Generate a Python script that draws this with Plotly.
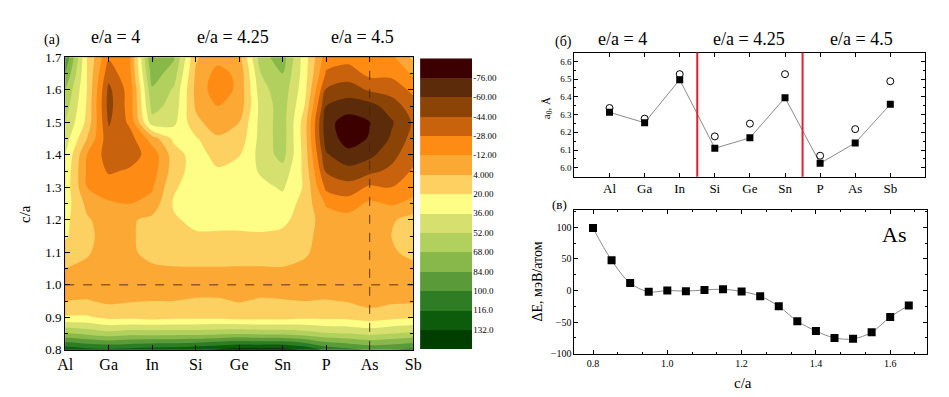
import plotly.graph_objects as go

# ---------------- data ----------------
elements = ["Al", "Ga", "In", "Si", "Ge", "Sn", "P", "As", "Sb"]
group_titles = ["e/a = 4", "e/a = 4.25", "e/a = 4.5"]
group_size = 3

# contour map (panel a): positions along the element axis and c/a rows, values in meV/atom
map_x = [0, 0.5, 1, 1.5, 2, 2.5, 3, 3.5, 4, 4.5, 5, 5.5, 6, 6.5, 7, 7.5, 8]
map_ca = [0.80, 0.85, 0.90, 0.95, 1.00, 1.05, 1.10, 1.15, 1.20, 1.25,
          1.30, 1.35, 1.40, 1.45, 1.50, 1.55, 1.60, 1.65, 1.70]
row_080 = [128, 122, 120, 122, 125, 126, 130, 135, 140, 140, 140, 130, 112, 105, 98, 100, 105]
row_085 = [70, 64, 58, 62, 62, 62, 62, 64, 66, 64, 64, 60, 54, 52, 48, 52, 56]
row_090 = [22, 22, 16, 16, 14, 16, 16, 16, 14, 14, 14, 16, 16, 16, 12, 16, 18]
row_095 = [4, 5, 1, 3, 4, 4, 6, 6, 3, 6, 5, 4, 5, 3, -2, 1, 2]
row_100 = [-4, -4, -6, -6, -6, -4, -4, -4, -4, -4, -4, -6, -6, -6, 0, -5, -4]
row_105 = [4, 0, -4, 0, 2, 3, 3, 3, 3, 3, 3, 1, -4, -4, -1, -2, 0]
row_110 = [14, 6, -4, 2, 8, 10, 12, 12, 10, 10, 12, 6, -2, -3, 1, 2, 8]
row_115 = [22, 8, -3, 2, 10, 16, 18, 18, 18, 18, 16, 8, -2, -4, 2, 4, 10]
row_120 = [24, 6, -4, 2, 8, 18, 24, 24, 24, 26, 24, 12, -4, -6, -1.5, 2, 10]
row_125 = [28, 0, -10, -12, -6, 22, 28, 28, 28, 30, 30, 14, -14, -20, -9, -14, -8]
row_130 = [30, -12, -20, -20, -14, 18, 28, 28, 28, 32, 38, 18, -32, -38, -25, -28, -18]
row_135 = [32, -14, -30, -26, -20, 12, 28, 22, 26, 38, 46, 16, -46, -54, -48.5, -40, -26]
row_140 = [36, -12, -36, -34, -22, 12, 28, 14, 19, 42, 58, 14, -58, -72, -64, -50, -32]
row_145 = [44, 4, -38, -34, -4, 24, 22, 6, 10, 42, 60, 12, -68, -82, -75, -58, -38]
row_150 = [52, 16, -46, -24, 46, 40, 8, -4, 4, 42, 60, 12, -70, -84, -76.5, -62, -42]
row_155 = [60, 18, -50, -20, 58, 46, 2, -12, -6, 42, 60, 20, -60, -68, -66, -52, -36]
row_160 = [68, 20, -48, -20, 66, 50, 0, -22, -8, 46, 62, 26, -46, -52, -42, -38, -24]
row_165 = [84, 20, -38, -14, 76, 60, 2, -18, -8, 52, 68, 28, -30, -36, -23.5, -24, -10]
row_170 = [100, 20, -26, -12, 86, 70, 6, -6, -2, 62, 76, 28, -20, -22, -20, -16, 8]

level_start = -76
level_step = 16
level_end = 132
cbar_labels = ["-76.00", "-60.00", "-44.00", "-28.00", "-12.00", "4.000", "20.00",
               "36.00", "52.00", "68.00", "84.00", "100.0", "116.0", "132.0"]
band_colors = ["#3c0000", "#5c2c0a", "#8c4406", "#c8620c", "#fe8c14", "#fca834",
               "#fdd062", "#fefe86", "#d6e06e", "#b2d05e", "#88b84a", "#5a9a38",
               "#2e7c24", "#0c5c0c", "#003e00"]

# panel б: lattice parameter a0 (Å)
a0_calc = [6.313, 6.254, 6.497, 6.110, 6.169, 6.395, 6.025, 6.140, 6.358]
a0_ref = [6.337, 6.277, 6.528, 6.177, 6.249, 6.528, 6.068, 6.218, 6.488]

# panel в: ΔE(c/a) for As
ca_As = [0.80, 0.85, 0.90, 0.95, 1.00, 1.05, 1.10, 1.15, 1.20,
         1.25, 1.30, 1.35, 1.40, 1.45, 1.50, 1.55, 1.60, 1.65]
dE_As = [99, 48, 12, -2, 0, -1, 1, 2, -1.5,
         -9, -25, -48.5, -64, -75, -76.5, -66, -42, -23.5]
dE_label = "As"

ref_ca = 1.0
ref_element = "As"

# ---------------- figure ----------------
W, H = 949, 397
def px(x):
    return x / W
def py(y):
    return 1 - y / H

FONT = "Times New Roman, Liberation Serif, serif"
dE_map = [row_080, row_085, row_090, row_095, row_100, row_105, row_110, row_115,
          row_120, row_125, row_130, row_135, row_140, row_145, row_150, row_155,
          row_160, row_165, row_170]
n_bands = len(band_colors)
colorscale = [[k / (n_bands - 1), c] for k, c in enumerate(band_colors)]
el_idx = list(range(len(elements)))

fig = go.Figure()

fig.add_trace(go.Contour(
    x=map_x, y=map_ca, z=dE_map,
    autocontour=False,
    contours=dict(start=level_start, end=level_end, size=level_step,
                  coloring="fill", showlines=False),
    colorscale=colorscale, showscale=False,
    line=dict(width=0, smoothing=0.9),
    xaxis="x", yaxis="y", hoverinfo="skip"))

# custom colour bar (negative values at the top, as in the original)
band_centers = [level_start - level_step / 2 + k * level_step for k in range(n_bands)]
fig.add_trace(go.Heatmap(
    x=[0], y=list(range(n_bands)), z=[[v] for v in band_centers],
    colorscale=colorscale, zmin=band_centers[0], zmax=band_centers[-1],
    showscale=False, xaxis="x2", yaxis="y2", hoverinfo="skip"))

# panel б
fig.add_trace(go.Scatter(
    x=el_idx, y=a0_calc, mode="lines+markers",
    line=dict(color="#8a8a8a", width=1),
    marker=dict(symbol="square", size=7, color="black"),
    xaxis="x3", yaxis="y3", hoverinfo="skip"))
fig.add_trace(go.Scatter(
    x=el_idx, y=a0_ref, mode="markers",
    marker=dict(symbol="circle-open", size=7, color="black", line=dict(width=1)),
    xaxis="x3", yaxis="y3", hoverinfo="skip"))

# panel в
fig.add_trace(go.Scatter(
    x=ca_As, y=dE_As, mode="lines+markers",
    line=dict(color="#8a8a8a", width=1, shape="spline"),
    marker=dict(symbol="square", size=8, color="black"),
    xaxis="x4", yaxis="y4", hoverinfo="skip"))

axis_common = dict(showline=True, linecolor="black", linewidth=1, mirror="ticks",
                   ticks="inside", tickcolor="black", showgrid=False, zeroline=False)

layout = dict(
    width=W, height=H, margin=dict(l=0, r=0, t=0, b=0),
    paper_bgcolor="white", plot_bgcolor="white", showlegend=False,
    font=dict(family=FONT, color="black", size=12),
    xaxis=dict(axis_common, domain=[px(50), px(404)], range=[0, 8],
               tickvals=el_idx, ticktext=elements, ticklen=5,
               tickfont=dict(size=16, family=FONT), anchor="y"),
    yaxis=dict(axis_common, domain=[py(348), py(44)], range=[0.8, 1.7],
               dtick=0.1, tick0=0.8, tickformat=".1f", ticklen=5,
               minor=dict(dtick=0.05, ticklen=3, ticks="inside", tickcolor="black"),
               tickfont=dict(size=13, family=FONT), anchor="x"),
    xaxis2=dict(domain=[px(411), px(464)], visible=False, anchor="y2",
                range=[-0.5, 0.5]),
    yaxis2=dict(domain=[py(347), py(45)], anchor="x2", side="right",
                range=[n_bands - 0.5, -0.5], showline=False, showgrid=False,
                zeroline=False, ticks="",
                tickvals=[k + 0.5 for k in range(len(cbar_labels))],
                ticktext=cbar_labels, tickfont=dict(size=9, family=FONT)),
    xaxis3=dict(axis_common, domain=[px(568), px(925)], range=[-1, 9],
                tickvals=el_idx, ticktext=elements, ticklen=4,
                tickfont=dict(size=13, family=FONT), anchor="y3"),
    yaxis3=dict(axis_common, domain=[py(168), py(39)], range=[5.95, 6.65],
                dtick=0.1, tick0=6.0, tickformat=".1f", ticklen=4,
                minor=dict(dtick=0.05, ticklen=2, ticks="inside", tickcolor="black"),
                tickfont=dict(size=9, family=FONT), anchor="x3"),
    xaxis4=dict(axis_common, domain=[px(568), px(927)], range=[0.75, 1.7],
                dtick=0.2, tick0=0.8, tickformat=".1f", ticklen=4,
                minor=dict(dtick=0.2 / 3, ticklen=2, ticks="inside", tickcolor="black"),
                tickfont=dict(size=10, family=FONT), anchor="y4"),
    yaxis4=dict(axis_common, domain=[py(352), py(203)], range=[-100, 127],
                dtick=50, ticklen=4,
                minor=dict(dtick=25, ticklen=2, ticks="inside", tickcolor="black"),
                tickfont=dict(size=10, family=FONT), anchor="x4"),
)
fig.update_layout(**layout)

# reference dashed lines on the map
ref_x = elements.index(ref_element)
fig.add_shape(type="line", xref="x", yref="y", x0=0, x1=8, y0=ref_ca, y1=ref_ca,
              line=dict(color="rgba(70,35,0,0.85)", width=1, dash="dash"))
fig.add_shape(type="line", xref="x", yref="y", x0=ref_x, x1=ref_x, y0=0.8, y1=1.7,
              line=dict(color="rgba(70,35,0,0.85)", width=1, dash="dash"))

# red group separators in panel б
for g in range(1, len(group_titles)):
    xb = g * group_size - 0.5
    fig.add_shape(type="line", xref="x3", yref="y3 domain", x0=xb, x1=xb, y0=0, y1=1,
                  line=dict(color="#e0202c", width=2))

def ann(text, x, y, size, angle=0):
    fig.add_annotation(text=text, x=px(x), y=py(y), xref="paper", yref="paper",
                       showarrow=False, font=dict(size=size, family=FONT, color="black"),
                       textangle=angle, xanchor="center", yanchor="middle")

ann("(a)", 37, 26, 14)
for t, cx in zip(group_titles, [101, 221, 352]):
    ann(t, cx, 23, 18)
ann("c/a", 9, 207, 15, -90)

ann("(б)", 557, 28, 14)
for t, cx in zip(group_titles, [617, 746, 860]):
    ann(t, cx, 25, 18)
ann("a<sub>0</sub>, Å", 540, 97, 11, -90)

ann("(в)", 553, 197, 13)
ann(dE_label, 893, 228, 22)
ann("ΔE, мэВ/атом", 530, 277, 14, -90)
ann("c/a", 739, 382, 15)

fig.write_html("out.html")
